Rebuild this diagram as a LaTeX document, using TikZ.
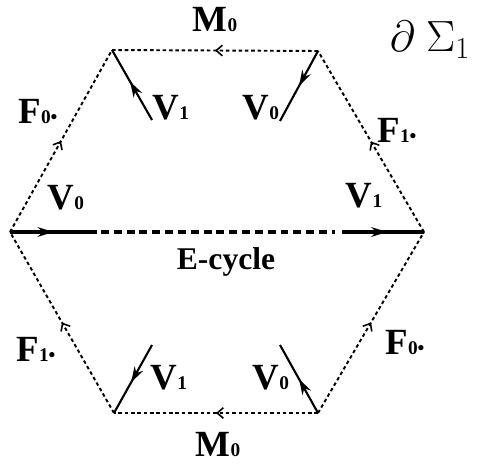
\documentclass[tikz,border=0pt]{standalone}
\usepackage{fontspec}
\setmainfont{Liberation Serif}
\usetikzlibrary{arrows.meta,decorations.markings}

\newcommand{\lowdig}[1]{{\fontsize{11}{11}\selectfont #1}}
\newcommand{\Lname}[2]{\textbf{#1}\lowdig{\textbf{#2}}}

\begin{document}
\begin{tikzpicture}[x=0.02cm, y=-0.02cm,
  lbl/.style={font=\fontsize{21}{21}\selectfont\bfseries, inner sep=0pt},
  rim/.style={line width=1.1pt, dash pattern=on 2pt off 1.6pt,
    postaction={decorate}, decoration={markings,
      mark=at position 0.5 with {\arrow{Straight Barb[length=3.5pt,width=6pt,line width=0.9pt]}}}},
  vec/.style={line width=1.2pt, postaction={decorate}, decoration={markings,
      mark=at position #1 with {\arrow{Stealth[length=9pt,width=5.5pt]}}}},
  vec/.default=0.55,
  axis/.style={line width=2.3pt}]
  \useasboundingbox (0,0) rectangle (502,466);

  % corners of the hexagon
  \coordinate (L)  at (10,232);
  \coordinate (R)  at (424,232);
  \coordinate (TL) at (112,50);
  \coordinate (TR) at (318,51);
  \coordinate (BL) at (114,413);
  \coordinate (BR) at (318,413);

  % dotted rim
  \draw[rim] (TR) -- (TL);
  \draw[rim] (L) -- (TL);
  \draw[rim] (R) -- (TR);
  \draw[rim] (BL) -- (L);
  \draw[rim] (BR) -- (R);
  \draw[rim] (BR) -- (BL);

  % E-cycle through the middle
  \coordinate (la) at (97,232);
  \coordinate (lb) at (101,232);
  \coordinate (ra) at (335,232);
  \coordinate (rb) at (342,232);
  \draw[vec=0.5, axis] (L) -- (la);
  \draw[axis, dash pattern=on 4.5pt off 2.8pt] (lb) -- (ra);
  \draw[vec=0.55, axis] (rb) -- (R);

  % short vectors at the corners
  \coordinate (tl) at (152,120);
  \coordinate (tr) at (280,121);
  \coordinate (bl) at (152,345);
  \coordinate (br) at (280,345);
  \draw[vec] (tl) -- (TL);
  \draw[vec=0.5] (TR) -- (tr);
  \draw[vec=0.55] (bl) -- (BL);
  \draw[vec=0.5] (BR) -- (br);

  % labels
  \node[lbl] (m0t) at (215,20) {\Lname{M}{0}};
  \node[lbl] (m0b) at (218,445) {\Lname{M}{0}};
  \node[lbl] (f0t) at (38,112) {F\lowdig{0\textbullet}};
  \node[lbl] (f1t) at (397,130) {F\lowdig{1\textbullet}};
  \node[lbl] (f1b) at (36,349) {F\lowdig{1\textbullet}};
  \node[lbl] (f0b) at (405,343) {F\lowdig{0\textbullet}};
  \node[lbl] (v1t) at (171,108) {\Lname{V}{1}};
  \node[lbl] (v0t) at (261,108) {\Lname{V}{0}};
  \node[lbl] (v1b) at (169,378) {\Lname{V}{1}};
  \node[lbl] (v0b) at (271,378) {\Lname{V}{0}};
  \node[lbl] (v0m) at (66,198) {\Lname{V}{0}};
  \node[lbl] (v1m) at (364,196) {\Lname{V}{1}};
  \node[lbl, font=\fontsize{18}{18}\selectfont\bfseries] (ecy) at (226,262) {E-cycle};
  \node[inner sep=0pt] (sig) at (430,40) {\fontsize{26}{26}\selectfont$\partial\ \Sigma_{1}$};
\end{tikzpicture}
\end{document}
